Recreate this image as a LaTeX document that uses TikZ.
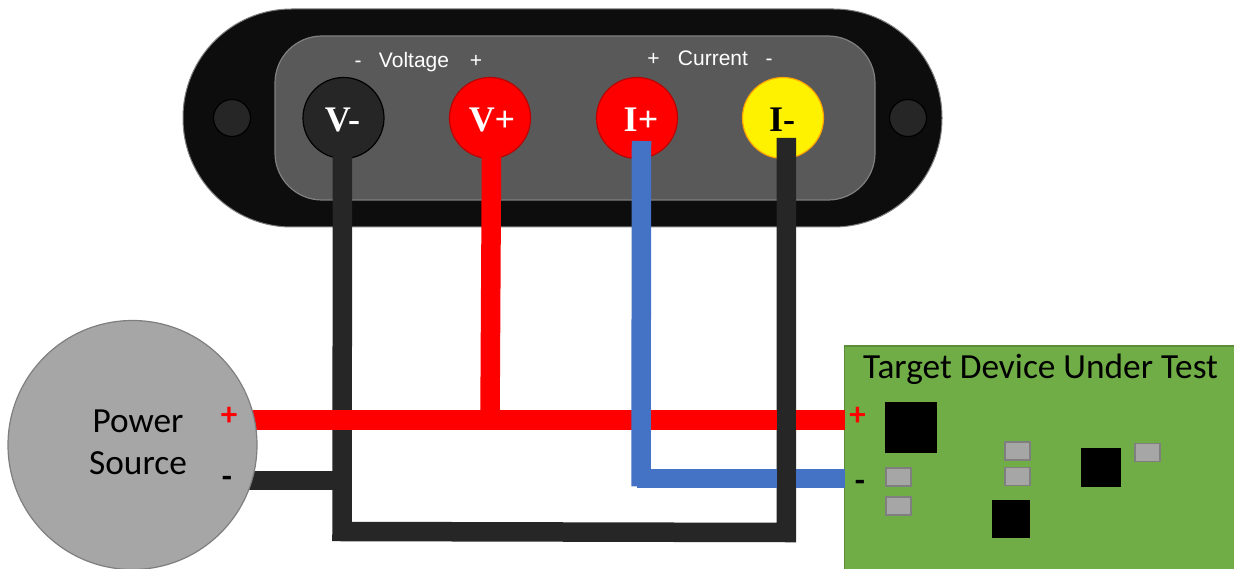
\documentclass[tikz,border=0pt]{standalone}
\usepackage{fontspec}
\setmainfont{Liberation Sans}
\newfontfamily\calib{Carlito}
\newfontfamily\serifb[Scale=1]{Liberation Serif}
\definecolor{wblack}{HTML}{262626}
\definecolor{wblue}{HTML}{4472C4}
\definecolor{pcb}{HTML}{70AD47}
\definecolor{pcbedge}{HTML}{5B8C39}
\definecolor{midgrey}{HTML}{A6A6A6}
\definecolor{edgegrey}{HTML}{7F7F7F}
\tikzset{
  box/.style={inner sep=0pt,outer sep=0pt,anchor=center},
  socket/.style={box,circle,minimum size=81pt,line width=1.2pt},
  socktext/.style={inner sep=0pt,font=\serifb\bfseries\fontsize{36}{36}\selectfont,anchor=base},
  screw/.style={box,circle,minimum size=37pt,fill=wblack,draw=black,line width=1.2pt},
  wire/.style={line width=19.5pt,line join=miter,line cap=butt},
  chip/.style={box,fill=black},
  pad/.style={box,fill=midgrey,draw=edgegrey,line width=1.6pt,minimum width=25pt,minimum height=18pt},
  panel/.style={text=white,font=\fontsize{21}{21}\selectfont,inner sep=0pt,anchor=base},
  big/.style={font=\calib\fontsize{35.3}{42}\selectfont,inner sep=0pt,text=black},
  pol/.style={font=\calib\bfseries\fontsize{33}{33}\selectfont,inner sep=0pt}
}
\begin{document}
\begin{tikzpicture}[x=1pt,y=-1pt]
\clip (0,0) rectangle (1234,569);
% meter body
\node[box,rounded corners=108.5pt,minimum width=759pt,minimum height=218pt,fill=black!95,draw=edgegrey,line width=1pt] (body) at (562.5,118) {};
\node[box,rounded corners=47pt,minimum width=600pt,minimum height=164pt,fill=black!65,draw=edgegrey,line width=1.2pt] (face) at (575,118) {};
\node[screw] (screwL) at (232,118) {};
\node[screw] (screwR) at (908,118) {};
\node[socket,fill=wblack,draw=black] (vm) at (343.5,118) {};
\node[socket,fill=red,draw=red!75!black] (vp) at (490,118) {};
\node[socket,fill=red,draw=red!75!black] (ip) at (637,118) {};
\node[socket,fill=yellow,draw=orange!70!yellow] (im) at (783,118) {};
\node[socktext,text=white] (vmt) at (342.5,132) {V-};
\node[socktext,text=white] (vpt) at (492,132) {V+};
\node[socktext,text=white] (ipt) at (641,132) {I+};
\node[socktext,text=black] (imt) at (782,132) {I-};
% panel labels
\node[panel] (vmlabel) at (358,68) {-};
\node[panel] (vlabel) at (414,68) {Voltage};
\node[panel] (vplabel) at (476,68) {+};
\node[panel] (iplabel) at (653.5,66) {+};
\node[panel] (ilabel) at (713,66) {Current};
\node[panel] (imlabel) at (769,66) {-};
% target board
\node[box,anchor=north west,minimum width=395pt,minimum height=228pt,fill=pcb,draw=pcbedge,line width=1.5pt] (target) at (844.5,346) {};
\node[big] (targetlabel) at (1040.5,369.5) {Target Device Under Test};
% anchor points of the wires
\coordinate (redS) at (250,420);
\coordinate (redJ) at (490,420);
\coordinate (redE) at (844.5,420);
\coordinate (blkS) at (248,480.5);
\coordinate (blkJ) at (342,480.5);
\coordinate (retL) at (342,531.5);
\coordinate (retR) at (786.3,532.5);
\coordinate (blueT) at (641.5,141);
\coordinate (blueC) at (641,486.5);
\coordinate (blueH) at (637,478.5);
\coordinate (blueE) at (844.5,478.5);
\coordinate (vmT) at (342.5,155);
\coordinate (vpT) at (491.5,155);
\coordinate (imT) at (786.3,138);
% wires, lowest first
\draw[wire,wblack] (blkS) -- (blkJ);
\draw[wire,wblack] (vmT) -- (retL) -- (retR) -- (imT);
\draw[wire,red] (redS) -- (redE);
\draw[wire,red] (vpT) -- (redJ);
\draw[wire,wblue] (blueT) -- (blueC);
\draw[wire,wblue] (blueH) -- (blueE);
\draw[wire,wblack] (retR) -- (imT);
% source
\node[box,circle,minimum size=249pt,fill=midgrey,draw=edgegrey,line width=1.2pt] (source) at (132.5,445) {};
\node[big,align=center] (sourcelabel) at (138,442) {Power\\Source};
\node[pol,text=red] (srcplus) at (229,416) {+};
\node[pol,text=black] (srcminus) at (227,482) {-};
\node[pol,text=red] (tgtplus) at (857.5,416) {+};
\node[pol,text=black] (tgtminus) at (860,486) {-};
% board parts
\node[chip,minimum width=52pt,minimum height=51pt] (u1) at (910.7,427.5) {};
\node[chip,minimum width=39.5pt,minimum height=39pt] (u2) at (1101,467.2) {};
\node[chip,minimum width=38pt,minimum height=38.5pt] (u3) at (1011,519) {};
\node[pad] (c1) at (898.3,477.2) {};
\node[pad] (c2) at (898.3,506.2) {};
\node[pad] (c3) at (1017.5,451) {};
\node[pad] (c4) at (1017.5,476.3) {};
\node[pad] (c5) at (1147.3,452.5) {};
\end{tikzpicture}
\end{document}
